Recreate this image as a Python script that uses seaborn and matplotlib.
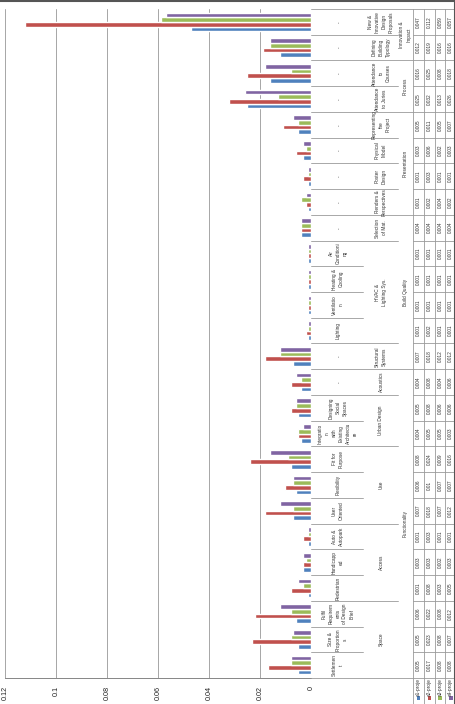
import matplotlib
matplotlib.use("Agg")
import numpy as np
import pandas as pd
import matplotlib.pyplot as plt
import seaborn as sns
from matplotlib.patches import Rectangle

# categories, bottom to top in the picture (left to right in the unrotated chart)
categories = [
    "Settlement", "Size & Proportions", "Fulfil Requirements of Design Brief",
    "Pedestrian", "Handicapped", "Auto & Autopark",
    "User Oriented", "Flexibility", "Fit for Purpose",
    "Integration with Existing Architecture", "Designing Social Spaces",
    "Acoustics", "Structural Systems",
    "Lighting", "Ventilation", "Heating & Cooling", "Air Conditioning",
    "Selection of Mat.", "Renders & Perspectives", "Poster Design",
    "Physical Model", "Representing the Project", "Attendance to Juries",
    "Attendance to Courses", "Defining Building Typology",
    "New & Innovative Design Proposals",
]

# table header text as wrapped in the picture
level1 = [
    "Settlemen\nt", "Size &\nProportion\ns", "Fulfil\nRequirem\nents\nof Design\nBrief",
    "Pedestrian", "Handicapp\ned", "Auto &\nAutopark",
    "User\nOriented", "Flexibility", "Fit for\nPurpose",
    "Integratio\nn\nwith\nExisting\nArchitectu\nre", "Designing\nSocial\nSpaces",
    "-", "-",
    "Lighting", "Ventilatio\nn", "Heating &\nCooling", "Air\nConditioni\nng",
    "-", "-", "-", "-", "-", "-", "-", "-", "-",
]
level2 = [
    "Space", "Access", "Use", "Urban Design", "Acoustics", "Structural\nSystems",
    "HVAC &\nLighting Sys.", "Selection\nof Mat.", "Renders &\nPerspectives",
    "Poster\nDesign", "Physical\nModel", "Representing\nthe\nProject",
    "Attendance\nto Juries", "Attendance\nto\nCourses", "Defining\nBuilding\nTypology",
    "New &\nInnovative\nDesign\nProposals",
]
level2_sizes = [3, 3, 3, 2, 1, 1, 4, 1, 1, 1, 1, 1, 1, 1, 1, 1]
level3 = ["Functionality", "Build Quality", "Presentation", "Process", "Innovation &\nImpact"]
level3_sizes = [12, 6, 4, 2, 2]

series = ["a1-proje", "a2-proje", "a3-proje", "a4-proje"]
a1 = [0.005, 0.005, 0.006, 0.001, 0.003, 0.001, 0.007, 0.006, 0.008, 0.004, 0.005, 0.004, 0.007,
      0.001, 0.001, 0.001, 0.001, 0.004, 0.001, 0.001, 0.003, 0.005, 0.025, 0.016, 0.012, 0.047]
a2 = [0.017, 0.023, 0.022, 0.008, 0.003, 0.003, 0.018, 0.01, 0.024, 0.005, 0.008, 0.008, 0.018,
      0.002, 0.001, 0.001, 0.001, 0.004, 0.002, 0.003, 0.006, 0.011, 0.032, 0.025, 0.019, 0.112]
a3 = [0.008, 0.008, 0.008, 0.003, 0.002, 0.001, 0.007, 0.007, 0.009, 0.005, 0.006, 0.004, 0.012,
      0.001, 0.001, 0.001, 0.001, 0.004, 0.004, 0.001, 0.002, 0.005, 0.013, 0.008, 0.016, 0.059]
a4 = [0.008, 0.007, 0.012, 0.005, 0.003, 0.001, 0.012, 0.007, 0.016, 0.003, 0.006, 0.006, 0.012,
      0.001, 0.001, 0.001, 0.001, 0.004, 0.002, 0.001, 0.003, 0.007, 0.026, 0.018, 0.016, 0.057]
colors = ["#4F81BD", "#C0504D", "#9BBB59", "#8064A2"]

df = pd.DataFrame({
    "category": categories * 4,
    "series": np.repeat(series, len(categories)),
    "value": a1 + a2 + a3 + a4,
})

sns.set_style("white")
plt.rcParams["font.family"] = ["Liberation Sans", "DejaVu Sans"]

fig = plt.figure(figsize=(4.56, 7.04), dpi=100)
unit = 669 / 26  # pixels per category
ax = fig.add_axes([5 / 456, 26 / 704, 306 / 456, 669 / 704])
sns.barplot(data=df, x="value", y="category", hue="series", order=categories,
            hue_order=series, palette=colors, orient="h", width=0.727,
            saturation=1, legend=False, ax=ax)
ax.set_xlim(0.12, 0)
ax.set_ylim(-0.5, 25.5)
ticks = np.round(np.arange(0, 0.121, 0.02), 2)
ax.set_xticks(ticks)
ax.set_xticklabels([f"{t:g}" for t in ticks])
ax.tick_params(axis="x", labelrotation=90, length=2.5, width=0.6, color="#868686",
               pad=3, labelsize=5.2, labelcolor="#222222")
ax.set_yticks([])
ax.set_xlabel("")
ax.set_ylabel("")
for s in ["top", "right", "left"]:
    ax.spines[s].set_visible(False)
ax.spines["bottom"].set_color("#868686")
ax.spines["bottom"].set_linewidth(0.7)
ax.grid(axis="x", color="#a6a6a6", linewidth=0.7)
ax.set_axisbelow(True)

# data table to the right of the bars
tab = fig.add_axes([311 / 456, 0, 145 / 456, 695 / 704])
ybot = -0.5 - 26 / unit
tab.set_xlim(311, 456)
tab.set_ylim(ybot, 25.5)
tab.axis("off")
lc = "#9a9a9a"
tk = dict(rotation=90, ha="center", va="center", fontsize=3.4, color="#333333",
          linespacing=1.5, multialignment="center")

g2 = np.repeat(np.arange(len(level2_sizes)), level2_sizes)
g3 = np.repeat(np.arange(len(level3_sizes)), level3_sizes)
rows = [413, 424, 435, 445.5, 456]
rc = [(rows[k] + rows[k + 1]) / 2 for k in range(4)]

for i in range(len(categories) - 1):
    y = i + 0.5
    if g3[i] != g3[i + 1]:
        tab.plot([311, 456], [y, y], color=lc, lw=0.6)
        continue
    xe = 363 if g2[i] == g2[i + 1] else 398
    tab.plot([311, xe], [y, y], color=lc, lw=0.6)
    tab.plot([413, 456], [y, y], color=lc, lw=0.6)
tab.plot([311, 456], [-0.5, -0.5], color=lc, lw=0.6)
tab.plot([311, 456], [25.5, 25.5], color=lc, lw=0.6)
for x in rows:
    tab.plot([x, x], [ybot, 25.5], color=lc, lw=0.6)

for i, t in enumerate(level1):
    tab.text(338 if t != "-" else 340, i, t, **tk)
start = 0
for t, n in zip(level2, level2_sizes):
    tab.text(381, start + (n - 1) / 2, t, **tk)
    start += n
start = 0
for t, n in zip(level3, level3_sizes):
    tab.text(405.5, start + (n - 1) / 2, t, **tk)
    start += n

for k, vals in enumerate([a1, a2, a3, a4]):
    for i, v in enumerate(vals):
        tab.text(rc[k], i, f"{v:g}", **tk)
    # legend key + series name
    tab.add_patch(Rectangle((rc[k] - 1.8, -0.5 - 22 / unit), 3.6, 3.6 / unit,
                            color=colors[k], lw=0))
    tab.text(rc[k], -0.5 - 9 / unit, series[k], **tk)

# chart border remnants (top and right)
fig.add_artist(plt.Line2D([0, 1], [1 - 1 / 704, 1 - 1 / 704], color="#555555", lw=1.5))
fig.add_artist(plt.Line2D([1 - 1 / 456, 1 - 1 / 456], [0, 1], color="#555555", lw=1.5))

fig.savefig("out.png", dpi=100)
